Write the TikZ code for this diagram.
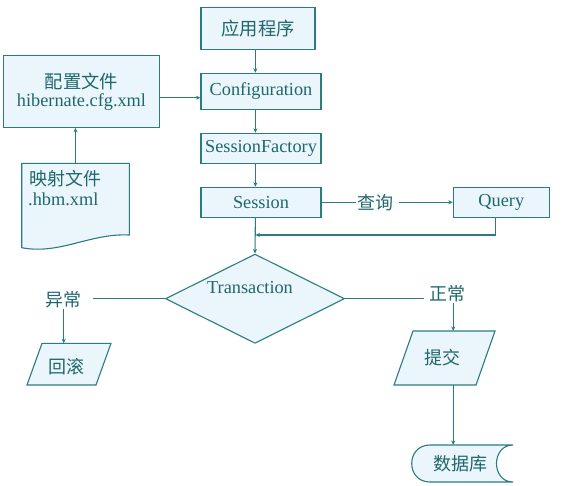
\documentclass[tikz,border=0pt]{standalone}
\usepackage{fontspec}
\setmainfont{Liberation Serif}
\newfontfamily\latf{Liberation Serif}
\newfontfamily\cjk{Noto Sans CJK SC}
\usetikzlibrary{shapes.geometric,arrows.meta,calc}
\definecolor{stk}{HTML}{2A7C80}
\definecolor{fil}{HTML}{EAF6FC}
\definecolor{txt}{HTML}{1F676B}
\begin{document}
\begin{tikzpicture}[x=1pt,y=-1pt,
  lat/.style={font=\latf\fontsize{18.3}{18.5}\selectfont},
  box/.style={draw=stk, fill=fil, line width=1.1pt, inner sep=0pt, text=txt, lat},
  lbl/.style={text=txt, inner sep=1pt, font=\cjk\fontsize{18}{21}\selectfont},
  conn/.style={draw=stk, line width=1.1pt},
  arr/.style={conn, -{Stealth[length=4.5pt,width=4pt]}},
  shp/.style={draw=stk, fill=fil, line width=1.1pt}]
\useasboundingbox (0,0) rectangle (564,485);

% main column
\node[box, minimum width=114, minimum height=42] (app) at (258,28.3) {\cjk 应用程序};
\node[box, minimum width=120, minimum height=36] (config) at (261,91.3) {Configuration};
\node[box, minimum width=156, minimum height=71.6, align=center] (cfgfile) at (81.5,91.5) {{\cjk 配置文件}\\hibernate.cfg.xml};
\node[box, minimum width=120, minimum height=30] (sf) at (261,148.3) {SessionFactory};
\node[box, minimum width=120, minimum height=30] (session) at (261,202.3) {Session};
\node[box, minimum width=96, minimum height=30] (query) at (501.3,202.3) {Query};

% mapping document
\draw[shp] (21.7,163.3) -- (129.3,163.3) -- (129.3,235) .. controls (90,233) and (60,255) .. (21.7,247.7) -- cycle;
\coordinate (doctop) at (75.5,163.3);
\node[text=txt, lbl, anchor=base west, inner sep=0pt] (doca) at (29,185.5) {映射文件};
\node[text=txt, lat, anchor=base west, inner sep=0pt] (docb) at (28,205) {.hbm.xml};

% spine connectors
\coordinate (sp) at (255.4,0);
\draw[arr] (app.south -| sp) -- (config.north -| sp);
\draw[arr] (config.south -| sp) -- (sf.north -| sp);
\draw[arr] (sf.south -| sp) -- (session.north -| sp);
\coordinate (cfa) at (0,97.7);
\draw[arr] (cfgfile.east |- cfa) -- (config.west |- cfa);
\draw[arr] (doctop) -- (cfgfile.south -| doctop);

% query
\node[lbl, inner sep=1pt] (cx) at (375.5,202.3) {查询};
\coordinate (cxgap) at ($(cx.east)+(4,0)$);
\draw[conn] (session.east) -- (cx.west);
\draw[arr] (cxgap) -- (query.west);
\coordinate (fb) at (495.7,235);
\draw[arr] (query.south -| fb) -- (fb) -- (fb -| sp);

% transaction
\node[shp, diamond, minimum width=179, minimum height=89.3, inner sep=0pt] (tx) at (255,298.7) {};
\node[text=txt, lat, inner sep=0pt] (txl) at (250,287.7) {Transaction};
\draw[arr] (session.south -| sp) -- (tx.north);

% exception branch
\node[lbl] (yc) at (63.7,299.3) {异常};
\coordinate (ycgap) at ($(yc.east)+(10.5,0)$);
\draw[conn] (tx.west) -- (tx.west -| ycgap);
\coordinate (hgtop) at (63.7,343.3);
\draw[arr] (yc.south -| hgtop) -- (hgtop);
\draw[shp] (42,343.3) -- (111,343.3) -- (96,385) -- (27,385) -- cycle;
\node[lbl] (hg) at (66.7,366.7) {回滚};

% normal branch
\node[lbl] (zc) at (447.6,293.3) {正常};
\coordinate (zcgap) at ($(zc.west)+(-4,0)$);
\draw[conn] (tx.east) -- (tx.east -| zcgap);
\coordinate (tjtop) at (453.2,331);
\draw[arr] (zc.south -| tjtop) -- (tjtop);
\draw[shp] (413,331) -- (495,331) -- (476,385) -- (394,385) -- cycle;
\node[lbl] (tj) at (442,358) {提交};
\coordinate (tjbot) at (453.2,385);
\coordinate (dbtop) at (453.2,445);
\draw[arr] (tjbot) -- (dbtop);

% database
\draw[shp] (430,445) -- (513,445) .. controls (491,445) and (491,482) .. (513,482) -- (430,482) .. controls (405.6,482) and (405.6,445) .. (430,445) -- cycle;
\node[lbl] (db) at (460,463.5) {数据库};
\end{tikzpicture}
\end{document}
